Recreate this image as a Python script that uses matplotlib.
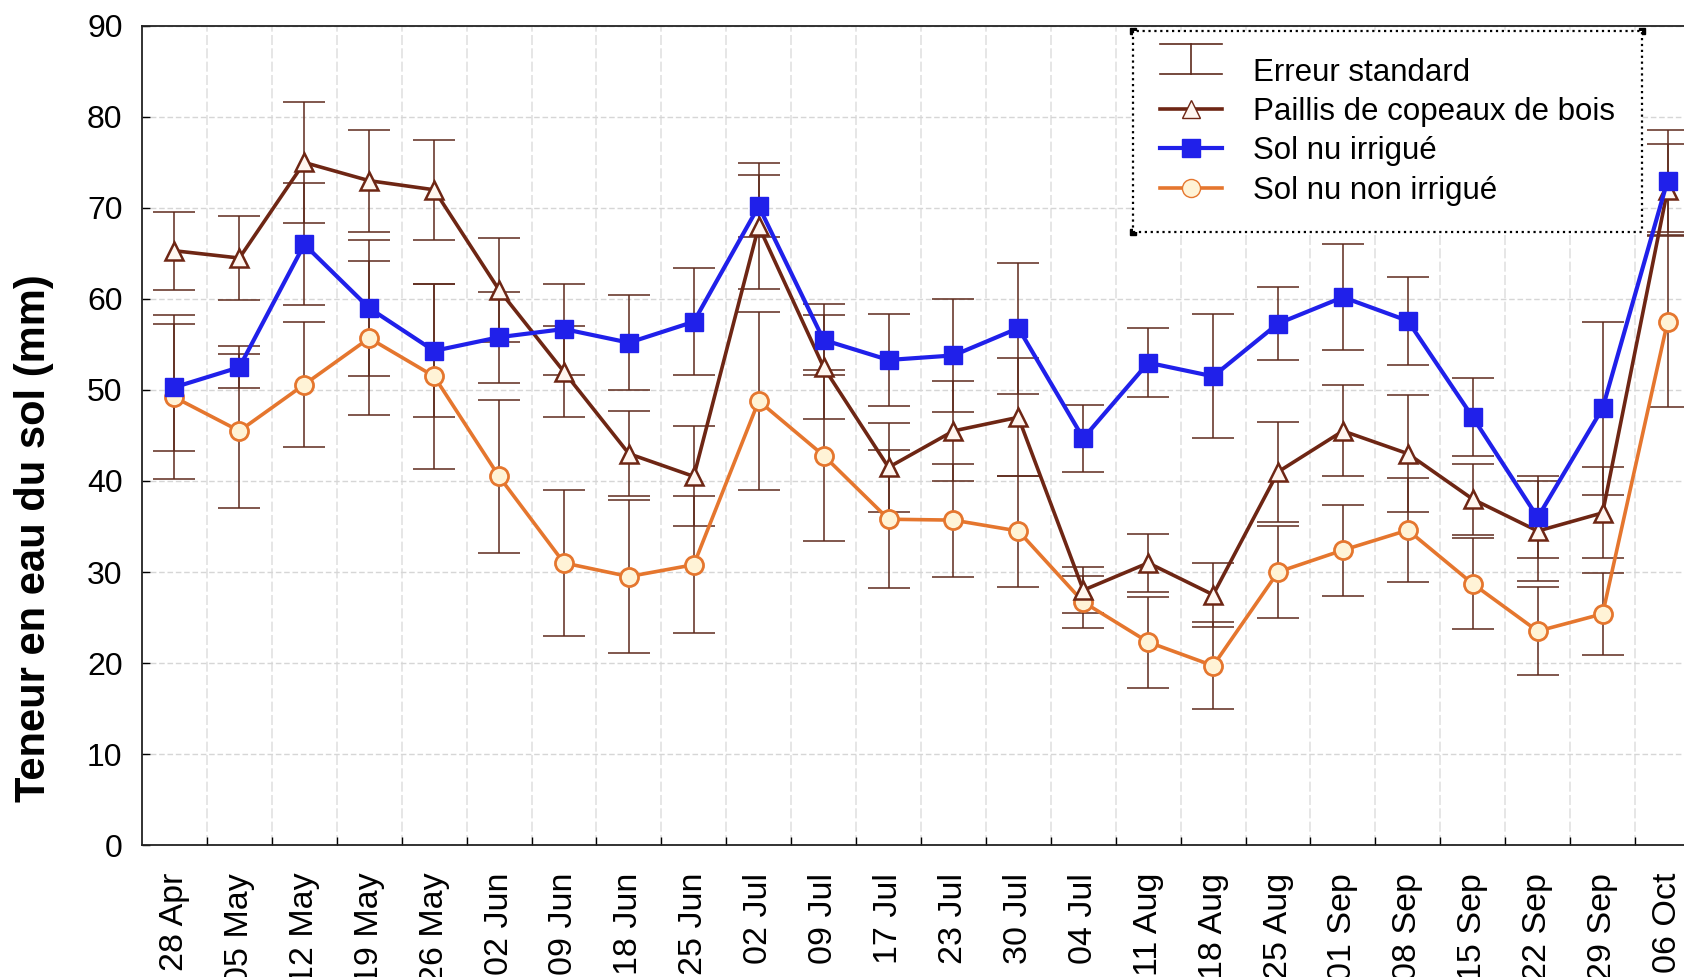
import numpy as np
import matplotlib
matplotlib.use("Agg")
import matplotlib.pyplot as plt
from matplotlib.lines import Line2D
from matplotlib.legend_handler import HandlerBase

plt.rcParams['font.family'] = ['Liberation Sans', 'DejaVu Sans']

dates = ['28 Apr', '05 May', '12 May', '19 May', '26 May', '02 Jun', '09 Jun',
         '18 Jun', '25 Jun', '02 Jul', '09 Jul', '17 Jul', '23 Jul', '30 Jul',
         '04 Jul', '11 Aug', '18 Aug', '25 Aug', '01 Sep', '08 Sep', '15 Sep',
         '22 Sep', '29 Sep', '06 Oct']

# teneur en eau (mm) et erreur standard
paillis = [65.3, 64.5, 75.0, 73.0, 72.0, 61.0, 52.0, 43.0, 40.5, 68.0, 52.5, 41.5,
           45.5, 47.0, 28.0, 31.0, 27.5, 41.0, 45.5, 43.0, 38.0, 34.5, 36.5, 72.0]
paillis_se = [4.3, 4.6, 6.6, 5.6, 5.5, 5.7, 5.0, 4.7, 5.5, 6.9, 5.7, 4.9,
              5.5, 6.5, 2.5, 3.2, 3.5, 5.5, 5.0, 6.4, 3.9, 5.5, 5.0, 5.0]
irrigue = [50.3, 52.5, 66.0, 59.0, 54.3, 55.8, 56.7, 55.2, 57.5, 70.2, 55.5, 53.3,
           53.8, 56.8, 44.7, 53.0, 51.5, 57.3, 60.2, 57.6, 47.0, 36.0, 48.0, 73.0]
irrigue_se = [7.0, 2.3, 6.7, 7.5, 7.3, 5.0, 5.0, 5.2, 5.9, 3.4, 3.9, 5.1,
              6.2, 7.2, 3.7, 3.8, 6.8, 4.0, 5.8, 4.8, 4.3, 4.5, 9.5, 5.6]
non_irrigue = [49.2, 45.5, 50.6, 55.7, 51.5, 40.5, 31.0, 29.5, 30.8, 48.8, 42.8, 35.8,
               35.7, 34.5, 26.7, 22.3, 19.7, 30.0, 32.4, 34.6, 28.7, 23.5, 25.4, 57.5]
non_irrigue_se = [9.0, 8.5, 6.9, 8.5, 10.2, 8.4, 8.0, 8.4, 7.5, 9.75, 9.4, 7.6,
                  6.2, 6.1, 2.9, 5.0, 4.8, 5.0, 5.0, 5.7, 5.0, 4.8, 4.5, 9.4]

err_col = '#5e2a1c'
brown = '#6e2614'
blue = '#2020ea'
orange = '#e5762e'


class HandlerErr(HandlerBase):
    # symbole "erreur standard" : trait vertical avec deux barres
    def create_artists(self, legend, orig_handle, xdescent, ydescent,
                       width, height, fontsize, trans):
        x0 = -xdescent
        x1 = x0 + width
        xm = (x0 + x1) / 2
        yb = -ydescent + 0.3 * height
        yt = yb + 1.35 * height
        kw = dict(color=err_col, lw=1.2, transform=trans)
        return [Line2D([xm, xm], [yb, yt], **kw),
                Line2D([x0, x1], [yt, yt], **kw),
                Line2D([x0, x1], [yb, yb], **kw)]


fig = plt.figure(figsize=(16.84, 9.77), dpi=100)
ax = fig.add_axes([142/1684, 0.1351, 1558/1684, 0.8383])

x = np.arange(len(dates))
eb = dict(fmt='none', ecolor=err_col, elinewidth=1.1, capsize=15, capthick=1.1, zorder=2)
ax.errorbar(x, paillis, yerr=paillis_se, **eb)
ax.errorbar(x, irrigue, yerr=irrigue_se, **eb)
ax.errorbar(x, non_irrigue, yerr=non_irrigue_se, **eb)

ax.plot(x, non_irrigue, color=orange, lw=2.6, marker='o', ms=13,
        mfc='#fff3d6', mec=orange, mew=2.0, zorder=3)
ax.plot(x, paillis, color=brown, lw=2.6, marker='^', ms=13,
        mfc='#fff6f0', mec=brown, mew=1.8, zorder=4)
ax.plot(x, irrigue, color=blue, lw=3.0, marker='s', ms=13.5,
        mfc=blue, mec=blue, zorder=5)

ax.set_xlim(-0.5, 23.5)
ax.set_ylim(0, 90)
ax.set_yticks(np.arange(0, 91, 10))
ax.set_xticks(x)
ax.set_xticklabels(dates, rotation=90, fontsize=24.5, va='top')
ax.set_xticks(x[:-1] + 0.5, minor=True)
ax.tick_params(axis='x', which='major', length=0, pad=20)
ax.tick_params(axis='x', which='minor', direction='in', length=6, width=1)
ax.tick_params(axis='y', direction='in', length=6, width=1, labelsize=23, pad=14)

ax.grid(axis='y', which='major', color='#d6d6d6', lw=1, ls=(0, (4, 2)))
ax.grid(axis='x', which='minor', color='#e2e2e2', lw=1.2, ls=(0, (6, 2)))
ax.set_axisbelow(True)
for s in ax.spines.values():
    s.set_color('#222222')
    s.set_linewidth(1.3)

ax.set_ylabel('Teneur en eau du sol (mm)', fontsize=30, fontweight='bold')
ax.yaxis.set_label_coords(-0.0565, 0.375)

handles = [
    Line2D([], []),
    Line2D([], [], color=brown, lw=2.6, marker='^', ms=13, mfc='#fff6f0', mec=brown),
    Line2D([], [], color=blue, lw=3.0, marker='s', ms=13.5, mfc=blue, mec=blue),
    Line2D([], [], color=orange, lw=2.6, marker='o', ms=13, mfc='#fff3d6', mec=orange),
]
labels = ['Erreur standard', 'Paillis de copeaux de bois', 'Sol nu irrigué',
          'Sol nu non irrigué']
leg = fig.legend(handles, labels, loc='upper left', bbox_to_anchor=(1133/1684, 1 - 31/977),
                 fontsize=22.5, frameon=True, fancybox=False, borderpad=0.85,
                 handlelength=2.0, handletextpad=1.0, labelspacing=0.3,
                 borderaxespad=0, handler_map={handles[0]: HandlerErr()})
frame = leg.get_frame()
frame.set_edgecolor('black')
frame.set_linestyle(':')
frame.set_linewidth(1.6)
frame.set_facecolor('white')
frame.set_alpha(1)

# petits carrés aux coins du cadre de légende
fig.canvas.draw()
bb = leg.get_window_extent().transformed(fig.transFigure.inverted())
for cx, cy in [(bb.x0, bb.y0), (bb.x0, bb.y1), (bb.x1, bb.y1), (bb.x1 - 0.012, bb.y0 + 0.006)]:
    fig.add_artist(Line2D([cx], [cy], marker='s', ms=4, color='black',
                          transform=fig.transFigure))

fig.savefig('out.png', dpi=100)
